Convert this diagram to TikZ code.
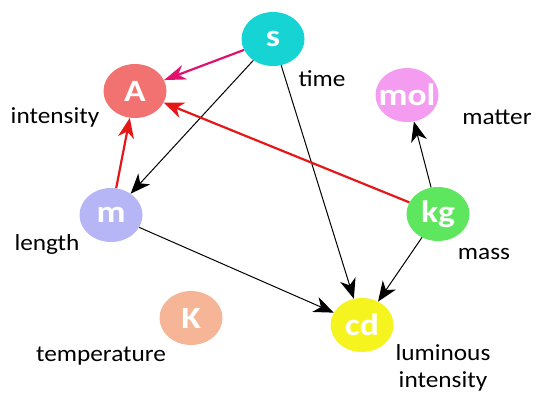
\documentclass[tikz,border=0pt]{standalone}
\usepackage{fontspec}
\setmainfont{Carlito}
\newfontfamily\labfont[FakeStretch=1.1]{Carlito}
\newfontfamily\unitfont[FakeStretch=1.15]{Carlito}
\usetikzlibrary{shapes.geometric,arrows.meta}
\definecolor{cS}{HTML}{17D4D4}
\definecolor{cA}{HTML}{F27272}
\definecolor{cMol}{HTML}{F49CF0}
\definecolor{cM}{HTML}{B6B6F6}
\definecolor{cKg}{HTML}{5EE65E}
\definecolor{cK}{HTML}{F6B597}
\definecolor{cCd}{HTML}{F6F41E}
\definecolor{cRed}{HTML}{E41818}
\definecolor{cPink}{HTML}{E0126E}
\tikzset{
  unit/.style={ellipse, draw=none, minimum width=63pt, minimum height=54pt, inner sep=0pt},
  unitlab/.style={text=white, font=\unitfont\bfseries\fontsize{31}{31}\selectfont, inner sep=0pt},
  qty/.style={font=\labfont\fontsize{23}{27}\selectfont, inner sep=0pt, align=center},
  tipstyle/.style={-{Stealth[length=20pt,width=16pt,inset=6pt]}},
  blk/.style={draw=black, line width=1pt, tipstyle},
  redarr/.style={draw=cRed, line width=2.2pt, tipstyle},
  pinkarr/.style={draw=cPink, line width=2.2pt, -{Stealth[length=22pt,width=15pt,inset=7pt]}}
}
\begin{document}
\begin{tikzpicture}[x=1pt,y=-1pt]
\useasboundingbox (0,0) rectangle (548,392);
\node[unit, fill=cS]   (s)   at (273,39) {};
\node[unit, fill=cA]   (A)   at (135,91) {};
\node[unit, fill=cMol] (mol) at (407,95) {};
\node[unit, fill=cM]   (m)   at (111,215) {};
\node[unit, fill=cKg]  (kg)  at (438,214) {};
\node[unit, fill=cK]   (K)   at (191,318) {};
\node[unit, fill=cCd]  (cd)  at (362,325) {};
\node[unitlab] (ts)   at (s)   {s};
\node[unitlab] (tA)   at (A)   {A};
\node[unitlab] (tmol) at (mol) {mol};
\node[unitlab] (tm)   at (m)   {m};
\node[unitlab] (tkg)  at (kg)  {kg};
\node[unitlab] (tK)   at (K)   {K};
\node[unitlab] (tcd)  at (cd)  {cd};
\node[qty] (ltime) at (322,79) {time};
\node[qty] (lint)  at (55,117) {intensity};
\node[qty] (lmat)  at (497,117) {matter};
\node[qty] (llen)  at (47,244) {length};
\node[qty] (lmass) at (484,254) {mass};
\node[qty] (ltemp) at (101,356) {temperature};
\node[qty] (llum)  at (443,368) {luminous\\intensity};
\draw[pinkarr] (s) -- (A);
\draw[blk] (s) -- (m);
\draw[blk] (s) -- (cd);
\draw[redarr] (kg) -- (A);
\draw[redarr] (m) -- (A);
\draw[blk] (kg) -- (mol);
\draw[blk] (kg) -- (cd);
\draw[blk] (m) -- (cd);
\end{tikzpicture}
\end{document}
